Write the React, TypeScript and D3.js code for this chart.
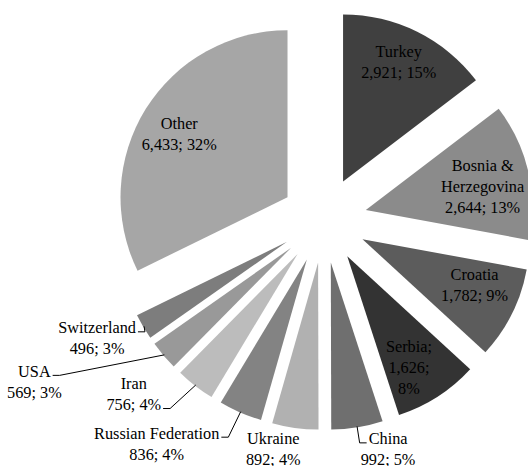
import React, { useRef, useEffect } from "react";
import * as d3 from "d3";

// chart data
const countries = ["Turkey", "Bosnia & Herzegovina", "Croatia", "Serbia", "China", "Ukraine", "Russian Federation", "Iran", "USA", "Switzerland", "Other"];
const values = [2921, 2644, 1782, 1626, 992, 892, 836, 756, 569, 496, 6433];
const percents = [15, 13, 9, 8, 5, 4, 4, 4, 3, 3, 32];
const colors = ["#404040", "#8b8b8b", "#5c5c5c", "#333333", "#6f6f6f", "#b1b1b1", "#838383", "#bcbcbc", "#999999", "#7d7d7d", "#a6a6a6"];

// label layout: inside (on the slice) or outside with a leader line
const labelOutside = [false, false, false, false, true, true, true, true, true, true, false];
const labelNudge: [number, number][] = [[0, -7], [-5, 6], [0, -10], [-6, 6], [31, 23], [-22, 22], [-84, 32], [-62, 9], [-130, 27], [-47, 12], [-2, 3]];
const leaderLine = [-1, -1, -1, -1, 0, -1, 0, 1, 0, 0, -1];

const W = 528;
const H = 466;
const cx = 324;
const cy = 220;
const R = 167;
const explode = 43;
const lineH = 21;
const fmt = d3.format(",");

function labelLines(i: number) {
  const v = fmt(values[i]);
  const p = percents[i] + "%";
  if (countries[i] === "Serbia") return ["Serbia;", v + ";", p];
  if (countries[i] === "Bosnia & Herzegovina") return ["Bosnia &", "Herzegovina", v + "; " + p];
  return [countries[i], v + "; " + p];
}

const App = () => {
  const svgRef = useRef<SVGSVGElement>(null);

  useEffect(() => {
    const svg = d3.select(svgRef.current);
    svg.selectAll("*").remove();

    const arcs = d3.pie<number>().sort(null).value((d) => d)(values);
    const arcGen = d3.arc<d3.PieArcDatum<number>>().innerRadius(0).outerRadius(R);
    const g = svg.append("g").attr("transform", `translate(${cx},${cy})`);

    arcs.forEach((a, i) => {
      const mid = (a.startAngle + a.endAngle) / 2;
      const sx = Math.sin(mid);
      const sy = -Math.cos(mid);
      const ox = explode * sx;
      const oy = explode * sy;

      g.append("path")
        .attr("d", arcGen(a))
        .attr("transform", `translate(${ox},${oy})`)
        .attr("fill", colors[i]);

      const lines = labelLines(i);
      let bx, by;
      const outerX = ox + (R - 1) * sx;
      const outerY = oy + (R - 1) * sy;
      if (labelOutside[i]) {
        bx = outerX + labelNudge[i][0];
        by = outerY + labelNudge[i][1];
      } else {
        bx = ox + 0.75 * R * sx + labelNudge[i][0];
        by = oy + 0.75 * R * sy + labelNudge[i][1];
      }

      const text = g.append("text")
        .attr("text-anchor", "middle")
        .style("font-family", '"Liberation Serif", "Times New Roman", serif')
        .style("font-size", "16.3px")
        .attr("fill", "#000");

      const spans = lines.map((ln, k) =>
        text.append("tspan")
          .attr("x", bx)
          .attr("y", by + (k - (lines.length - 1) / 2) * lineH + 5.5)
          .text(ln)
      );

      const li = leaderLine[i];
      if (li >= 0) {
        const len = (spans[li].node() as SVGTextContentElement).getComputedTextLength();
        const ly = by + (li - (lines.length - 1) / 2) * lineH + 4;
        const toRight = bx < outerX;
        const endX = toRight ? bx + len / 2 + 2 : bx - len / 2 - 2;
        const elbowX = toRight ? endX + 7 : endX - 7;
        g.append("path")
          .attr("d", d3.line()([[outerX, outerY], [elbowX, ly], [endX, ly]]))
          .attr("fill", "none")
          .attr("stroke", "#000")
          .attr("stroke-width", 1);
      }
    });
  }, []);

  return (
    <svg ref={svgRef} width={W} height={H} style={{ position: "absolute", left: 0, top: 0, background: "#fff" }} />
  );
};

export default App;
